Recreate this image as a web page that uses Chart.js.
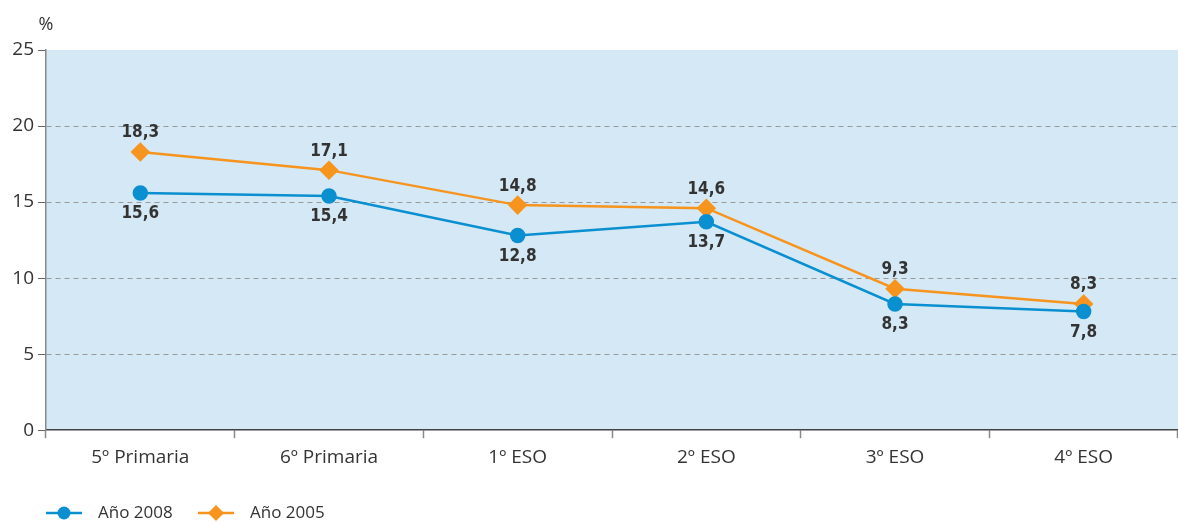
<!DOCTYPE html>
<html>
<head>
<meta charset="utf-8">
<script src="https://cdn.jsdelivr.net/npm/chart.js@4/dist/chart.umd.min.js"></script>
<style>
  html, body { margin: 0; padding: 0; background: #fff; overflow: hidden; }
  #wrap { width: 1178px; height: 522px; position: relative; }
</style>
</head>
<body>
<div id="wrap"><canvas id="lineChart"></canvas></div>
<script>
const categories = ["5º Primaria", "6º Primaria", "1º ESO", "2º ESO", "3º ESO", "4º ESO"];
const values2008 = [15.6, 15.4, 12.8, 13.7, 8.3, 7.8];
const values2005 = [18.3, 17.1, 14.8, 14.6, 9.3, 8.3];
const yTicks = [0, 5, 10, 15, 20, 25];

const BLUE = "#0a8fd0";
const ORANGE = "#f7941d";
const TEXT = "#333333";
const TICK_FONT = "'Open Sans', sans-serif";
const LABEL_FONT = "'DejaVu Sans Condensed', 'Open Sans', sans-serif";

const drawMarker = (ctx, shape, x, y, color) => {
    ctx.fillStyle = color;
    ctx.beginPath();
    if (shape === "circle") {
        ctx.arc(x, y, 6.5, 0, Math.PI * 2);
    } else {
        ctx.moveTo(x, y - 8);
        ctx.lineTo(x + 8, y);
        ctx.lineTo(x, y + 8);
        ctx.lineTo(x - 8, y);
        ctx.closePath();
    }
    ctx.fill();
};

const plotBackground = {
    id: "plotBackground",
    beforeDraw(chart) {
        const { ctx, chartArea } = chart;
        ctx.save();
        ctx.fillStyle = "#d4e8f5";
        ctx.fillRect(chartArea.left, chartArea.top, chartArea.right - chartArea.left, chartArea.bottom - chartArea.top);
        ctx.restore();
    },
};

const pointLabels = {
    id: "pointLabels",
    afterDatasetsDraw(chart) {
        const ctx = chart.ctx;
        ctx.save();
        ctx.font = "bold 17px " + LABEL_FONT;
        ctx.fillStyle = TEXT;
        ctx.textAlign = "center";
        ctx.textBaseline = "middle";
        chart.data.datasets.forEach((ds, i) => {
            const meta = chart.getDatasetMeta(i);
            meta.data.forEach((pt, j) => {
                const txt = ds.data[j].toFixed(1).replace(".", ",");
                const dy = ds.labelBelow ? 21 : -19;
                ctx.fillText(txt, pt.x, pt.y + dy);
            });
        });
        // percent sign above the y axis
        ctx.font = "18px " + TICK_FONT;
        ctx.fillText("%", chart.chartArea.left, 25);
        ctx.restore();
    },
};

// legend drawn as line + marker + text, like the original
const lineLegend = {
    id: "lineLegend",
    afterDraw(chart) {
        const ctx = chart.ctx;
        const y = chart.height - 9;
        let x = chart.chartArea.left;
        ctx.save();
        ctx.font = "17px " + TICK_FONT;
        ctx.textBaseline = "middle";
        ctx.textAlign = "left";
        chart.data.datasets.forEach((ds) => {
            ctx.strokeStyle = ds.borderColor;
            ctx.lineWidth = 2.5;
            ctx.beginPath();
            ctx.moveTo(x, y);
            ctx.lineTo(x + 36, y);
            ctx.stroke();
            drawMarker(ctx, ds.legendShape, x + 18, y, ds.borderColor);
            ctx.fillStyle = TEXT;
            ctx.fillText(ds.label, x + 52, y);
            x += 152;
        });
        ctx.restore();
    },
};

new Chart(document.getElementById("lineChart"), {
    type: "line",
    data: {
        labels: categories,
        datasets: [
            {
                label: "Año 2008",
                data: values2008,
                borderColor: BLUE,
                backgroundColor: BLUE,
                borderWidth: 2.5,
                pointStyle: "circle",
                pointRadius: 6.5,
                pointHoverRadius: 6.5,
                legendShape: "circle",
                labelBelow: true,
                fill: false,
            },
            {
                label: "Año 2005",
                data: values2005,
                borderColor: ORANGE,
                backgroundColor: ORANGE,
                borderWidth: 2.5,
                pointStyle: "rectRot",
                pointRadius: 8,
                pointHoverRadius: 8,
                legendShape: "diamond",
                labelBelow: false,
                fill: false,
            },
        ],
    },
    options: {
        responsive: true,
        maintainAspectRatio: false,
        animation: false,
        layout: {
            autoPadding: false,
            padding: { top: 50, right: 0, left: 0, bottom: 45 },
        },
        scales: {
            x: {
                offset: true,
                afterFit: (scale) => { scale.paddingRight = 0; scale.paddingLeft = 0; },
                grid: {
                    offset: true,
                    drawOnChartArea: false,
                    drawTicks: true,
                    tickLength: 8,
                    tickColor: "#888",
                    tickWidth: 1.5,
                },
                border: { color: "#444", width: 1.5 },
                ticks: {
                    color: TEXT,
                    font: { family: TICK_FONT, size: 19 },
                    padding: 8,
                },
            },
            y: {
                min: 0,
                max: 25,
                afterFit: (scale) => { scale.width = 46; },
                afterBuildTicks: (scale) => { scale.ticks = yTicks.map((v) => ({ value: v })); },
                grid: {
                    color: (c) => (c.tick && (c.tick.value === 0 || c.tick.value === 25) ? "rgba(0,0,0,0)" : "#999"),
                    lineWidth: 1,
                    tickColor: "#666",
                    tickLength: 8,
                    tickBorderDash: [],
                },
                border: { color: "#888", width: 1.5, dash: [5, 4] },
                ticks: {
                    color: TEXT,
                    font: { family: TICK_FONT, size: 19 },
                    padding: 4,
                },
            },
        },
        plugins: {
            legend: { display: false },
            tooltip: { enabled: false },
        },
    },
    plugins: [plotBackground, pointLabels, lineLegend],
});
</script>
</body>
</html>
